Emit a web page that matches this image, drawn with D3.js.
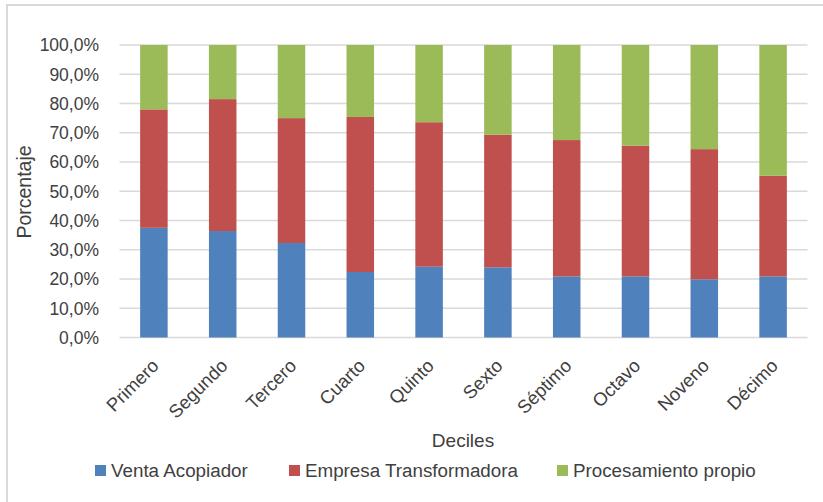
<!DOCTYPE html>
<html>
<head>
<meta charset="utf-8">
<script src="https://cdn.jsdelivr.net/npm/d3@7"></script>
<style>
  html, body { margin: 0; padding: 0; background: #fff; }
  svg { display: block; }
  text { font-family: "Liberation Sans", Arial, sans-serif; }
</style>
</head>
<body>
<svg id="chart" width="823" height="502"></svg>
<script>
const categories = ["Primero", "Segundo", "Tercero", "Cuarto", "Quinto", "Sexto", "Séptimo", "Octavo", "Noveno", "Décimo"];
const seriesNames = ["Venta Acopiador", "Empresa Transformadora", "Procesamiento propio"];
const ventaAcopiador = [37.5, 36.4, 32.3, 22.4, 24.2, 24.0, 20.9, 20.9, 19.9, 20.9];
const empresaTransformadora = [40.5, 45.1, 42.7, 53.0, 49.4, 45.3, 46.6, 44.7, 44.5, 34.4];
const procesamientoPropio = [22.0, 18.5, 25.0, 24.6, 26.4, 30.7, 32.5, 34.4, 35.6, 44.7];
const yTicks = [0, 10, 20, 30, 40, 50, 60, 70, 80, 90, 100];
const colors = ["#4F81BD", "#C0504D", "#9BBB59"];

const svg = d3.select("#chart");
const plotLeft = 119.5, plotRight = 807.5, plotTop = 45, plotBottom = 337.5;

// chart border (clipped on right/bottom as in reference)
svg.append("rect").attr("x", 7).attr("y", 5).attr("width", 830).attr("height", 520)
  .attr("fill", "none").attr("stroke", "#d9d9d9").attr("stroke-width", 2);

const x = d3.scaleBand().domain(categories).range([plotLeft, plotRight]).paddingInner(0.6).paddingOuter(0.3);
const y = d3.scaleLinear().domain([0, 100]).range([plotBottom, plotTop]);

// gridlines
svg.append("g").selectAll("line").data(yTicks).join("line")
  .attr("x1", plotLeft).attr("x2", plotRight)
  .attr("y1", d => y(d)).attr("y2", d => y(d))
  .attr("stroke", "#d9d9d9").attr("stroke-width", 1.3);

// y tick labels
const fmt = d => d.toFixed(1).replace(".", ",") + "%";
svg.append("g").selectAll("text").data(yTicks).join("text")
  .attr("x", 99).attr("y", d => y(d)).attr("dy", "0.36em")
  .attr("text-anchor", "end").attr("font-size", 17.5).attr("fill", "#404040")
  .text(fmt);

// stacked data
const rows = categories.map((c, i) => ({
  cat: c,
  [seriesNames[0]]: ventaAcopiador[i],
  [seriesNames[1]]: empresaTransformadora[i],
  [seriesNames[2]]: procesamientoPropio[i]
}));
const stacked = d3.stack().keys(seriesNames)(rows);

svg.append("g").selectAll("g").data(stacked).join("g")
  .attr("fill", (d, i) => colors[i])
  .selectAll("rect").data(d => d).join("rect")
  .attr("x", d => x(d.data.cat))
  .attr("width", x.bandwidth())
  .attr("y", d => y(d[1]))
  .attr("height", d => y(d[0]) - y(d[1]));

// x labels rotated
svg.append("g").selectAll("text").data(categories).join("text")
  .attr("transform", d => `translate(${x(d) + x.bandwidth() / 2 + 6},${367}) rotate(-45)`)
  .attr("text-anchor", "end").attr("font-size", 18.5).attr("fill", "#404040")
  .text(d => d);

// axis titles
svg.append("text").attr("x", 463).attr("y", 447).attr("text-anchor", "middle")
  .attr("font-size", 19).attr("fill", "#404040").text("Deciles");
svg.append("text").attr("transform", "translate(31,192) rotate(-90)")
  .attr("text-anchor", "middle").attr("font-size", 19.5).attr("fill", "#404040").text("Porcentaje");

// legend
const legendX = [95, 289, 557];
const lg = svg.append("g").selectAll("g").data(seriesNames).join("g")
  .attr("transform", (d, i) => `translate(${legendX[i]},0)`);
lg.append("rect").attr("x", 0).attr("y", 465).attr("width", 11).attr("height", 11)
  .attr("fill", (d, i) => colors[i]);
lg.append("text").attr("x", 16).attr("y", 477).attr("font-size", 18.8).attr("fill", "#404040")
  .text(d => d);
</script>
</body>
</html>
